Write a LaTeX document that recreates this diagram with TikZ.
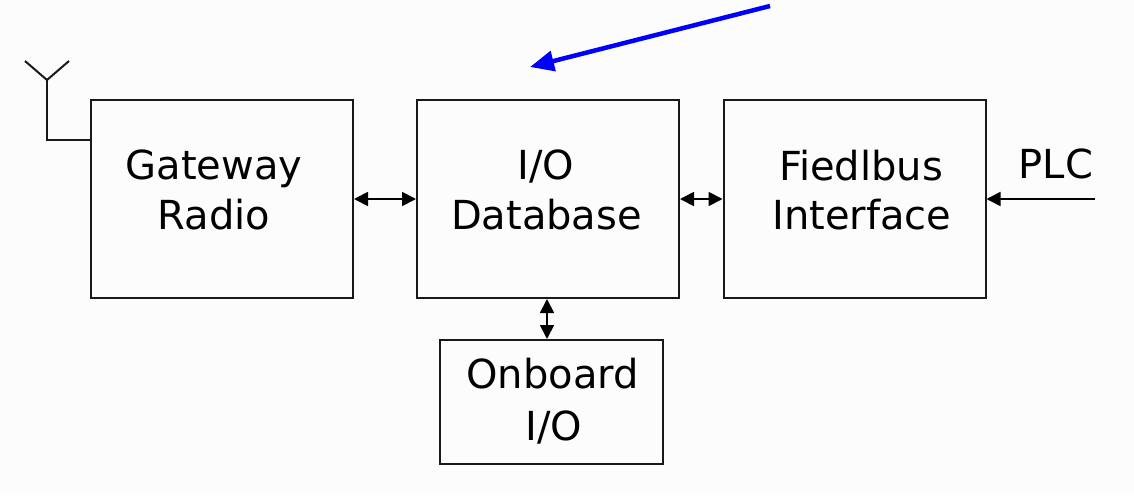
\documentclass[tikz,border=0pt]{standalone}
\usepackage{fontspec}
\setmainfont{DejaVu Sans}
\usetikzlibrary{arrows.meta}
\begin{document}
\begin{tikzpicture}[x=1pt,y=-1pt,
  block/.style={draw=black!90, line width=2pt, minimum width=262pt, minimum height=198pt, inner sep=0pt},
  txt/.style={font=\fontsize{40}{51}\selectfont, inner sep=0pt, anchor=base},
  link/.style={draw=black, line width=1.8pt, {Triangle[length=14pt,width=14pt]}-{Triangle[length=14pt,width=14pt]}},
  feed/.style={draw=black, line width=1.8pt, -{Triangle[length=14pt,width=14pt]}},
  wire/.style={draw=black!90, line width=2pt}]
  \useasboundingbox (0,0) rectangle (1134,495);
  \fill[white!99!black] (0,0) rectangle (1134,495);

  % main blocks
  \node[block] (gw) at (222,199) {};
  \node[block] (db) at (548,199) {};
  \node[block] (fb) at (854.5,199) {};
  \node[block, minimum width=223pt, minimum height=124pt] (ob) at (551.5,402) {};

  % block captions, one line each
  \node[txt] (gw1) at (214,179) {Gateway};
  \node[txt] (gw2) at (214,229) {Radio};
  \node[txt] (db1) at (546,179) {I/O};
  \node[txt] (db2) at (546.5,229) {Database};
  \node[txt] (fb1) at (861,180) {Fiedlbus};
  \node[txt] (fb2) at (862,229) {Interface};
  \node[txt] (ob1) at (552.5,388) {Onboard};
  \node[txt] (ob2) at (554,440) {I/O};

  % antenna feeding the gateway
  \coordinate (ant) at (47,80);
  \coordinate (antL) at (25,61);
  \coordinate (antR) at (69,61);
  \coordinate (antB) at (47,140);
  \draw[wire] (antL) -- (ant) -- (antR);
  \draw[wire] (ant) -- (antB) -- (antB -| gw.west);

  % data paths between blocks
  \draw[link] (gw.east) -- (db.west);
  \draw[link] (db.east) -- (fb.west);
  \draw[link] (db.south -| ob.north) ++(-4.5,0) coordinate (dbs) -- (dbs |- ob.north);

  % PLC input
  \node[txt] (plc) at (1056,178) {PLC};
  \coordinate (plcin) at (1095,199);
  \draw[feed] (plcin) -- (fb.east);

  % highlight pointer
  \coordinate (ptrA) at (770,6);
  \coordinate (ptrB) at (530,67);
  \draw[blue, line width=4.5pt, -{Triangle[length=24pt,width=20pt]}] (ptrA) -- (ptrB);
\end{tikzpicture}
\end{document}
